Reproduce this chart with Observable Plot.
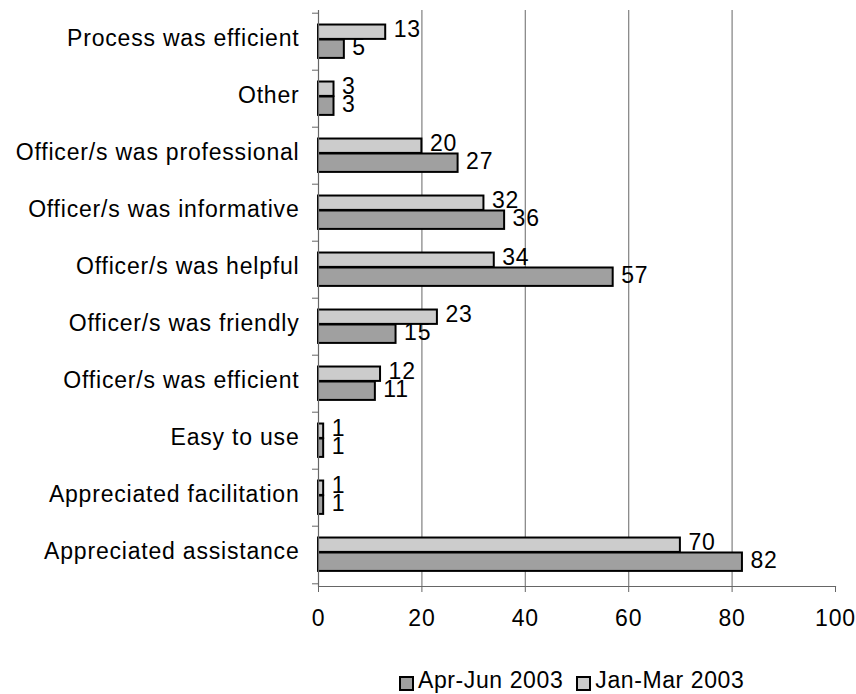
<!DOCTYPE html>
<html>
<head>
<meta charset="utf-8">
<script src="https://cdn.jsdelivr.net/npm/d3@7"></script>
<script src="https://cdn.jsdelivr.net/npm/@observablehq/plot@0.6"></script>
<style>
  html, body { margin: 0; padding: 0; background: #fff; }
  #wrap { position: relative; width: 856px; height: 694px; font-family: "Liberation Sans", Arial, sans-serif; }
  #legend { position: absolute; left: 399px; top: 669px; display: flex; align-items: flex-start; font-size: 23px; line-height: 23px; letter-spacing: 0.6px; color: #000; }
  .sw { display: inline-block; box-sizing: border-box; width: 15px; height: 15px; border: 2px solid #000; margin-top: 7px; margin-right: 4px; }
  .item { display: flex; align-items: flex-start; margin-right: 13px; }
</style>
</head>
<body>
<div id="wrap"></div>
<script>
const categories = [
  "Process was efficient",
  "Other",
  "Officer/s was professional",
  "Officer/s was informative",
  "Officer/s was helpful",
  "Officer/s was friendly",
  "Officer/s was efficient",
  "Easy to use",
  "Appreciated facilitation",
  "Appreciated assistance"
];
const janMar = [13, 3, 20, 32, 34, 23, 12, 1, 1, 70];
const aprJun = [5, 3, 27, 36, 57, 15, 11, 1, 1, 82];
const seriesNames = ["Apr-Jun 2003", "Jan-Mar 2003"];
const seriesColors = ["#a0a0a0", "#cccccc"];
const xTicks = [0, 20, 40, 60, 80, 100];
const gridTicks = [20, 40, 60, 80];

const W = 856, H = 650, mT = 10, mB = 64, mL = 318, mR = 21;
const step = (H - mT - mB) / categories.length;

const light = categories.map((c, i) => ({category: c, value: janMar[i]}));
const dark = categories.map((c, i) => ({category: c, value: aprJun[i]}));

const chart = Plot.plot({
  width: W,
  height: H,
  marginTop: mT,
  marginBottom: mB,
  marginLeft: mL,
  marginRight: mR,
  style: {fontFamily: "'Liberation Sans', Arial, sans-serif", fontSize: "23px", letterSpacing: "0.8px", color: "#000", background: "#fff"},
  x: {domain: [0, 100], ticks: xTicks},
  y: {domain: categories, padding: 0},
  marks: [
    Plot.ruleX(gridTicks, {stroke: "#808080", strokeWidth: 1.2}),
    Plot.barX(light, {x: "value", y: "category", fill: seriesColors[1], stroke: "#000", strokeWidth: 2,
      insetTop: step * 0.20, insetBottom: step * 0.54}),
    Plot.barX(dark, {x: "value", y: "category", fill: seriesColors[0], stroke: "#000", strokeWidth: 2,
      insetTop: step * 0.46, insetBottom: step * 0.21}),
    Plot.text(light, {x: "value", y: "category", text: d => String(d.value), textAnchor: "start", dx: 8, dy: -step * 0.21, fill: "#000"}),
    Plot.text(dark, {x: "value", y: "category", text: d => String(d.value), textAnchor: "start", dx: 8, dy: step * 0.09, fill: "#000"}),
    Plot.ruleX([0], {stroke: "#666", strokeWidth: 1.2}),
    Plot.frame({anchor: "bottom", stroke: "#666", strokeWidth: 1.2}),
    Plot.axisY({tickSize: 0, tickPadding: 19, dy: -3, label: null}),
    Plot.axisY({ticks: categories, tickSize: 6, text: null, dy: -step / 2, stroke: "#666", label: null}),
    Plot.axisY({ticks: [categories[categories.length - 1]], tickSize: 6, text: null, dy: step / 2, stroke: "#666", label: null}),
    Plot.axisX({ticks: xTicks, tickSize: 6, tickPadding: 17, stroke: "#666", label: null, tickFormat: d => String(d)})
  ]
});
const wrap = document.getElementById("wrap");
wrap.appendChild(chart);

const legend = document.createElement("div");
legend.id = "legend";
seriesNames.forEach((name, i) => {
  const item = document.createElement("span");
  item.className = "item";
  const sw = document.createElement("span");
  sw.className = "sw";
  sw.style.background = seriesColors[i];
  item.appendChild(sw);
  item.appendChild(document.createTextNode(name));
  legend.appendChild(item);
});
wrap.appendChild(legend);
</script>
</body>
</html>
